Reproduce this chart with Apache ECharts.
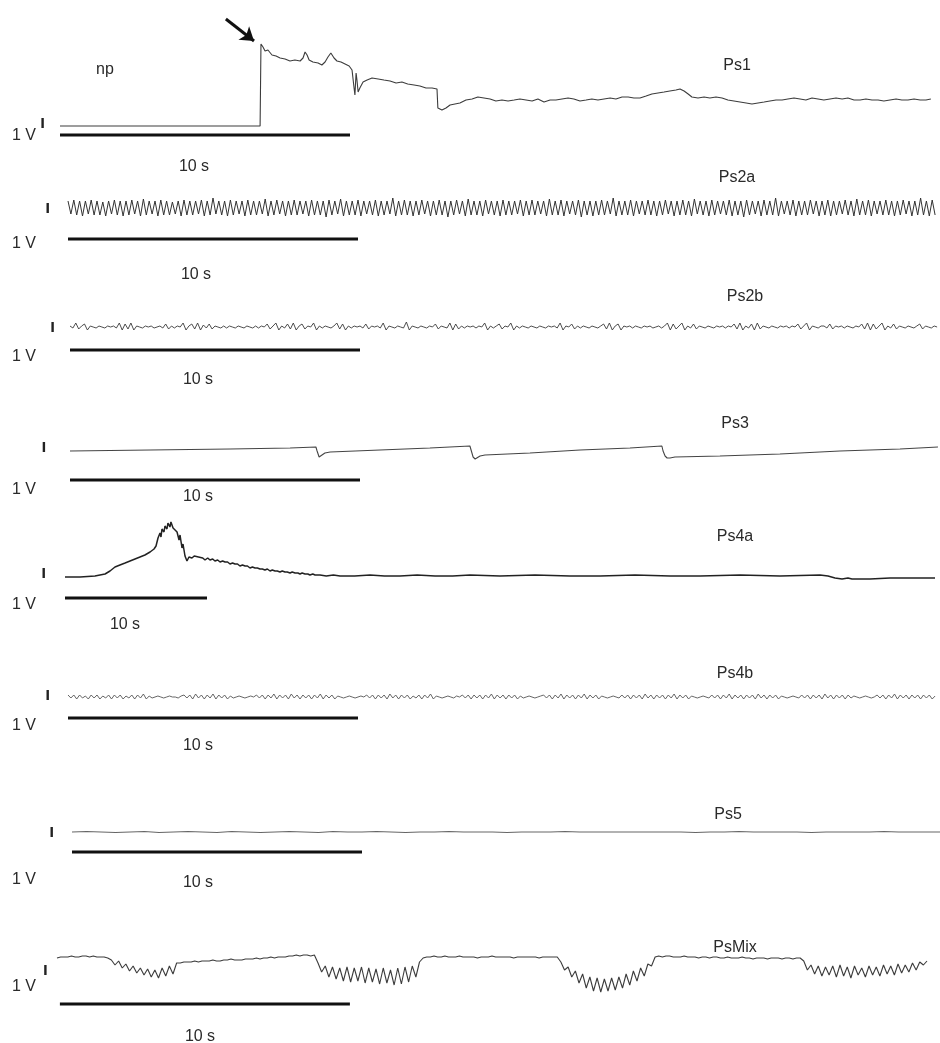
<!DOCTYPE html>
<html>
<head>
<meta charset="utf-8">
<script src="https://cdn.jsdelivr.net/npm/echarts@6/dist/echarts.min.js"></script>
<style>
  html, body { margin: 0; padding: 0; background: #fff; }
  #chart { width: 940px; height: 1043px; }
</style>
</head>
<body>
<div id="chart"></div>
<script>
// ---- Recorded traces: time in s, potential in V (relative to each trace's resting level) ----

const panelNames = ['Ps1', 'Ps2a', 'Ps2b', 'Ps3', 'Ps4a', 'Ps4b', 'Ps5', 'PsMix'];
const voltLabel = '1 V';
const timeLabel = '10 s';
const markerLabel = 'np';
const timeBarSeconds = 10;
const voltBarVolts = 1;

// Ps1: [t, V] pairs
const ps1Trace = [
  [0,0],[6.90,0],[6.93,8.2],[7.00,7.9],[7.07,7.5],[7.17,7.6],[7.31,7.1],[7.45,7.0],[7.59,6.8],[7.76,6.7],
  [7.93,6.5],[8.10,6.6],[8.28,6.5],[8.38,6.8],[8.45,7.4],[8.52,7.1],[8.59,6.6],[8.72,6.4],[8.90,6.3],[9.03,6.1],
  [9.14,6.4],[9.24,6.9],[9.34,7.3],[9.45,6.8],[9.55,6.5],[9.69,6.4],[9.83,6.2],[9.97,6.0],[10.07,5.6],[10.14,3.8],
  [10.17,3.1],[10.21,5.3],[10.24,4.6],[10.28,3.4],[10.34,3.8],[10.45,4.4],[10.59,4.6],[10.76,4.8],[10.97,4.7],[11.17,4.6],
  [11.38,4.5],[11.59,4.3],[11.79,4.4],[11.99,4.2],[12.21,4.1],[12.41,4.0],[12.62,3.8],[12.83,3.8],[13.00,3.7],[13.03,1.8],
  [13.17,1.6],[13.31,1.8],[13.45,2.1],[13.62,2.2],[13.79,2.3],[14.00,2.6],[14.21,2.7],[14.41,2.9],[14.62,2.8],[14.83,2.7],
  [15.03,2.5],[15.24,2.6],[15.45,2.5],[15.66,2.6],[15.86,2.7],[16.07,2.6],[16.28,2.5],[16.48,2.7],[16.69,2.4],[16.90,2.6],
  [17.10,2.6],[17.31,2.7],[17.52,2.8],[17.72,2.7],[17.93,2.5],[18.14,2.6],[18.34,2.7],[18.55,2.6],[18.76,2.7],[18.97,2.8],
  [19.17,2.7],[19.38,2.9],[19.59,2.9],[19.79,2.8],[20.00,2.8],[20.21,3.0],[20.41,3.2],[20.62,3.3],[20.83,3.4],[21.03,3.5],
  [21.24,3.6],[21.38,3.7],[21.52,3.5],[21.66,3.2],[21.79,2.9],[22.00,2.8],[22.21,2.9],[22.41,2.8],[22.62,2.9],[22.83,2.8],
  [23.03,2.6],[23.24,2.5],[23.45,2.4],[23.66,2.3],[23.86,2.2],[24.07,2.3],[24.28,2.4],[24.48,2.5],[24.69,2.6],[24.90,2.6],
  [25.10,2.7],[25.31,2.8],[25.52,2.7],[25.72,2.6],[25.93,2.8],[26.14,2.7],[26.34,2.6],[26.55,2.7],[26.76,2.8],[26.97,2.7],
  [27.17,2.8],[27.38,2.6],[27.59,2.6],[27.79,2.7],[28.00,2.6],[28.21,2.6],[28.41,2.5],[28.62,2.6],[28.83,2.7],[29.03,2.6],
  [29.24,2.6],[29.45,2.7],[29.66,2.6],[29.86,2.6],[30.03,2.7]
];
// arrow pointing at the onset in Ps1 (t, V)
const ps1Arrow = [[5.72, 10.7], [6.69, 8.5]];

// Ps2a: sampled every 0.1 s
const ps2aStep = 0.1;
const ps2aTrace = [
  .6,-.7,.7,-.8,.6,-.9,.6,-.7,.7,-.8,.6,-.8,.5,-.9,.6,-.7,.7,-.8,.6,-.9,
  .6,-.8,.7,-.7,.6,-.9,.8,-.8,.6,-.7,.6,-.9,.7,-.8,.6,-.8,.5,-.7,.6,-.9,
  .7,-.8,.6,-.8,.6,-.7,.7,-.9,.6,-.8,.9,-.7,.6,-.8,.6,-.9,.7,-.8,.6,-.7,
  .6,-.9,.7,-.8,.6,-.8,.6,-.7,.8,-.9,.6,-.8,.7,-.7,.6,-.9,.6,-.8,.7,-.8,
  .6,-.7,.6,-.9,.7,-.8,.6,-.8,.6,-1,.7,-.8,.6,-.7,.8,-.9,.6,-.8,.6,-.8,
  .7,-.9,.6,-.7,.6,-.8,.7,-.9,.6,-.8,.6,-.7,.9,-.9,.6,-.8,.7,-.8,.6,-.9,
  .6,-.8,.7,-.7,.6,-.9,.6,-.8,.7,-.8,.6,-1,.6,-.8,.7,-.7,.6,-.9,.8,-.8,
  .6,-.8,.6,-.9,.7,-.7,.6,-.8,.6,-.9,.7,-.8,.6,-.8,.6,-.7,.7,-.9,.6,-.8,
  .7,-.8,.6,-.7,.6,-.9,.8,-.8,.6,-.8,.7,-.9,.6,-.7,.6,-.8,.7,-1,.6,-.8,
  .6,-.9,.6,-.8,.7,-.8,.6,-.7,.9,-.9,.6,-.8,.6,-.8,.7,-.9,.6,-.7,.6,-.8,
  .7,-.8,.6,-.9,.6,-.8,.7,-.7,.6,-.9,.6,-.8,.7,-.8,.6,-.9,.8,-.7,.6,-.8,
  .6,-.9,.7,-.8,.6,-.7,.6,-.8,.7,-.9,.6,-.8,.6,-1,.7,-.8,.6,-.7,.6,-.9,
  .7,-.8,.6,-.8,.9,-.9,.6,-.7,.6,-.8,.7,-.9,.6,-.8,.6,-.8,.7,-.7,.6,-.9,
  .6,-.8,.7,-.9,.6,-.8,.6,-.7,.7,-.8,.6,-.9,.8,-.8,.6,-.8,.7,-.9,.6,-.7,
  .6,-.8,.7,-.8,.6,-.9,.6,-.8,.7,-.7,.6,-.9,.6,-.8,.9,-.8,.6,-.9,.7,-.8
];

// Ps2b: sampled every 0.1 s
const ps2bStep = 0.1;
const ps2bTrace = [
  .1,-.1,.4,-.2,.1,.3,-.3,.1,0,-.1,.1,0,-.1,.1,0,.1,-.1,.4,-.3,.3,
  -.2,.4,-.3,.1,0,-.1,.1,0,.1,-.1,0,.1,-.1,.3,-.2,.1,-.1,.1,0,.4,
  -.3,.1,.3,-.2,.4,-.3,.2,-.1,.3,-.2,.1,0,-.1,.1,-.1,.1,0,-.1,.1,0,
  -.1,.1,0,-.1,.1,-.1,.1,0,.3,-.2,.1,.4,-.3,.1,-.1,.3,-.2,.4,-.3,.1,
  .3,-.2,.1,0,.4,-.3,.1,-.1,.1,0,-.1,.1,.4,-.2,.3,-.3,.1,-.1,.1,0,
  .1,-.1,.3,-.2,.1,0,.1,-.1,.4,-.3,.1,0,-.1,.1,0,-.1,.5,-.3,.1,0,
  -.1,.1,0,-.1,.1,0,.3,-.2,.1,0,-.1,.4,-.3,.3,-.2,.1,-.1,.1,0,.1,
  -.1,.1,0,.4,-.3,.1,-.1,.1,.3,-.2,.1,0,.4,-.3,.1,-.1,.1,0,-.1,.1,
  0,-.1,.1,0,-.1,.1,0,.1,-.1,.4,-.3,.1,0,.3,-.2,.1,-.1,.1,0,-.1,
  .1,0,-.1,.1,.3,-.2,.4,-.3,.1,.3,-.3,.1,0,.1,-.1,.1,0,-.1,.1,0,
  .1,-.1,0,.1,-.1,.1,.4,-.3,.3,-.2,.1,.4,-.3,.1,-.1,.3,-.2,.1,0,-.1,
  .1,0,-.1,.1,0,.1,-.1,.1,0,.3,-.2,.4,-.3,.1,-.1,.3,-.3,.4,-.2,.1,
  0,-.1,.1,0,-.1,.1,0,.1,-.1,.1,0,.3,-.2,.1,.4,-.3,.1,0,-.1,.1,
  .1,-.1,.3,-.2,.1,0,.1,-.1,.1,0,-.1,.1,0,.3,-.2,.4,-.3,.3,-.2,.1,
  .4,-.3,.1,-.1,.3,-.2,.1,0,-.1,.1,0,-.1,.1,.3,-.2,.1,0,-.1,.1,0
];

// Ps3: [t, V] pairs
const ps3Trace = [
  [0,-0.1],[2.76,0],[5.52,0.1],[7.59,0.2],[8.48,0.3],[8.52,-0.1],[8.59,-0.7],[8.62,-0.8],[8.69,-0.5],[8.79,-0.3],
  [8.97,-0.2],[10.69,0],[12.41,0.2],[13.79,0.4],[13.83,0],[13.90,-0.7],[13.97,-0.9],[14.03,-0.8],[14.14,-0.6],[14.31,-0.5],
  [15.86,-0.3],[17.59,0],[19.31,0.2],[20.41,0.4],[20.45,-0.1],[20.52,-0.6],[20.59,-0.8],[20.69,-0.8],[20.86,-0.7],[22.41,-0.6],
  [24.48,-0.4],[26.55,-0.1],[28.62,0.1],[29.93,0.3]
];

// Ps4a: [t, V] pairs (slower time base)
const ps4aTrace = [
  [0,0],[1.06,0],[2.11,0.1],[2.82,0.3],[3.17,0.6],[3.52,1.0],[3.87,1.2],[4.23,1.4],[4.58,1.6],[4.93,1.8],
  [5.28,2.0],[5.63,2.2],[5.99,2.5],[6.27,2.8],[6.41,3.1],[6.55,3.9],[6.69,4.4],[6.76,4.0],[6.83,4.8],[6.97,4.5],
  [7.04,5.1],[7.18,4.8],[7.25,5.4],[7.39,5.0],[7.46,5.5],[7.61,4.9],[7.75,5.1],[7.89,4.5],[8.03,3.7],[8.10,4.2],
  [8.24,2.9],[8.31,3.3],[8.45,2.1],[8.59,1.6],[8.73,2.0],[8.94,1.9],[9.10,2.1],[9.23,1.9],[9.40,2.0],[9.51,1.8],
  [9.70,1.9],[9.86,1.7],[10.05,1.9],[10.21,1.7],[10.40,1.8],[10.56,1.6],[10.75,1.7],[10.92,1.5],[11.10,1.6],[11.27,1.5],
  [11.45,1.5],[11.62,1.3],[11.80,1.4],[11.97,1.3],[12.15,1.3],[12.32,1.1],[12.50,1.2],[12.68,1.1],[12.85,1.1],[13.03,0.9],
  [13.20,1.0],[13.38,0.9],[13.55,0.9],[13.73,0.8],[13.90,0.8],[14.08,0.7],[14.25,0.8],[14.44,0.6],[14.60,0.7],[14.79,0.6],
  [14.95,0.6],[15.14,0.5],[15.30,0.6],[15.49,0.5],[15.65,0.5],[15.85,0.4],[16.00,0.5],[16.20,0.4],[16.40,0.4],[16.55,0.3],
  [16.70,0.4],[16.90,0.3],[17.10,0.3],[17.25,0.2],[17.45,0.3],[17.61,0.2],[17.96,0.2],[18.40,0.1],[18.90,0.2],[19.37,0.1],
  [20.40,0.1],[21.48,0.2],[22.50,0.1],[23.59,0.1],[24.80,0.2],[26.06,0.1],[27.30,0.1],[28.52,0.2],[30.63,0.1],[33.10,0.2],
  [35.56,0.1],[37.68,0.1],[40.14,0.2],[42.61,0.1],[44.72,0.1],[47.54,0.2],[50.35,0.1],[53.17,0.2],[53.73,0.1],[54.23,-0.1],
  [54.72,-0.2],[55.14,-0.1],[55.42,-0.2],[56.69,-0.2],[58.10,-0.1],[59.51,-0.1],[61.27,-0.1]
];

// Ps4b: sampled every 0.1 s
const ps4bStep = 0.1;
const ps4bTrace = [
  .2,-.1,.2,-.2,.2,-.1,.1,-.2,.2,-.1,.2,-.2,.1,-.1,.2,-.2,.2,-.1,.2,-.2,
  .1,-.1,.2,-.2,.2,-.1,.3,-.2,.1,-.1,0,.1,0,-.1,0,.1,0,0,-.1,.1,
  .2,-.1,.2,-.2,.3,-.1,.2,-.2,.2,-.1,.3,-.2,.2,-.1,.2,-.2,.1,-.1,0,.1,
  0,-.1,0,.1,0,.2,-.1,.2,-.2,.2,-.1,.3,-.2,.2,-.1,.2,-.2,.3,-.1,.2,
  -.2,.2,-.1,.2,-.2,.2,-.1,.3,-.2,.2,-.1,.2,-.2,.1,0,-.1,0,.1,0,-.1,
  0,.1,0,.2,-.1,.2,-.2,.2,-.1,.2,-.2,.3,-.1,.2,-.2,.2,-.1,.2,-.2,.1,
  -.1,.2,-.2,.2,-.1,.3,-.2,.1,0,-.1,0,.1,0,-.1,.1,0,.2,-.1,.2,-.2,
  .2,-.1,.2,-.2,.2,-.1,.3,-.2,.2,-.1,.2,-.2,.2,-.1,.2,-.2,.1,-.1,0,.1,
  0,-.1,0,.1,.2,-.1,.2,-.2,.2,-.1,.3,-.2,.2,-.1,.2,-.2,.2,-.1,.3,-.2,
  .2,-.1,.2,-.2,.1,0,-.1,0,.1,0,-.1,.2,-.1,.2,-.2,.2,-.1,.2,-.2,.3,
  -.1,.2,-.2,.2,-.1,.2,-.2,.2,-.1,.3,-.2,.2,-.1,.2,-.2,.1,0,-.1,0,.1,
  0,-.1,.2,-.1,.2,-.2,.2,-.1,.3,-.2,.2,-.1,.2,-.2,.2,-.1,.2,-.2,.3,-.1,
  .2,-.2,.2,-.1,.2,-.2,.1,0,-.1,0,.1,0,-.1,.2,-.1,.2,-.2,.2,-.1,.2,
  -.2,.3,-.1,.2,-.2,.2,-.1,.2,-.2,.2,-.1,.1,0,-.1,0,.1,0,-.1,0,.2,
  -.1,.2,-.2,.2,-.1,.3,-.2,.2,-.1,.2,-.2,.2,-.1,.2,-.2,.2,-.1,.2,-.2,.1
];

// Ps5: sampled every 0.5 s
const ps5Step = 0.5;
const ps5Trace = [
  0,.05,0,-.05,0,.05,-.05,0,.05,0,-.05,.05,0,-.05,0,.05,0,-.05,.05,0,
  0,.05,0,-.05,0,0,.05,0,0,0,-.05,0,0,0,.05,0,0,0,0,0,
  0,0,0,-.05,0,0,.05,0,0,0,0,-.05,0,0,0,0,.05,0,0,0,0
];

// PsMix: sampled every 0.125 s
const psMixStep = 0.125;
const psMixTrace = [
  0,.1,.1,.1,.2,.1,.1,.2,.2,.1,.2,.1,.1,.1,0,
  -.2,-.7,-.3,-1.0,-.6,-1.3,-.8,-1.5,-1.0,-1.7,-1.1,-1.9,-1.2,-2.0,-1.0,-1.8,-.8,-1.6,-.5,
  -.5,-.4,-.4,-.4,-.3,-.4,-.3,-.3,-.3,-.2,-.3,-.3,-.2,-.2,-.1,-.2,-.2,-.2,-.1,-.1,
  -.1,0,-.1,0,0,.1,0,.1,.1,.1,.2,.2,.3,.2,.3,.3,.2,.3,
  -.5,-1.4,-.8,-1.9,-.9,-2.1,-1.0,-2.3,-.9,-2.4,-1.0,-2.3,-.9,-2.5,-1.0,-2.4,-1.1,-2.6,-1.0,-2.5,
  -1.2,-2.7,-1.0,-2.6,-.9,-2.4,-.8,-1.9,-.4,
  0,.1,.1,.2,.1,.1,.2,.1,.1,.1,.2,.1,.1,.1,.1,0,.1,.1,.1,.2,
  .1,.1,.1,.1,.1,0,.1,.1,.1,.1,.1,.1,0,.1,.1,.1,.1,.1,
  -.4,-1.2,-.9,-1.9,-1.3,-2.5,-1.6,-3.0,-1.9,-3.3,-2.0,-3.4,-2.1,-3.3,-2.0,-3.2,-1.9,-3.0,-1.6,-2.7,
  -1.3,-2.3,-1.0,-1.8,-.6,-.8,
  .1,.2,.1,.2,.2,.1,.1,.1,.2,.1,.1,.1,0,.1,.1,0,.1,.1,0,0,
  .1,0,0,0,.1,0,0,-.1,0,0,0,-.1,0,0,0,-.1,0,0,-.1,0,0,
  -.3,-1.2,-.7,-1.6,-.8,-1.8,-.9,-1.7,-.8,-1.9,-.7,-1.8,-.9,-2.0,-.8,-1.7,-1.0,-1.9,-.8,-1.7,
  -.9,-1.8,-.7,-1.6,-.8,-1.7,-.6,-1.5,-.7,-1.4,-.5,-1.2,-.4,-.7,-.3
];

// ---- Layout: where each trace sits on the page and how its axes are scaled ----
const PAGE_W = 940, PAGE_H = 1043;
const PX_PER_VOLT = 10;
const FONT = '"Liberation Sans", Arial, Helvetica, sans-serif';
const FONT_SIZE = 16;

function sampled(values, step) {
  return values.map((v, i) => [+(i * step).toFixed(4), v]);
}

const panels = [
  { data: ps1Trace, x0: 60, pxPerSec: 29, y0: 126, barV: -0.9, barT0: 0, vbarT: -0.6, vbarV0: -0.2,
    nameAt: [737, 66], voltAt: [24, 136], timeAt: [194, 167], color: '#3c3c3c', width: 1.1 },
  { data: sampled(ps2aTrace, ps2aStep), x0: 68, pxPerSec: 29, y0: 207, barV: -3.2, barT0: 0, vbarT: -0.7, vbarV0: -0.6,
    nameAt: [737, 178], voltAt: [24, 244], timeAt: [196, 275], color: '#333', width: 1 },
  { data: sampled(ps2bTrace, ps2bStep), x0: 70, pxPerSec: 29, y0: 327, barV: -2.3, barT0: 0, vbarT: -0.6, vbarV0: -0.5,
    nameAt: [745, 297], voltAt: [24, 357], timeAt: [198, 380], color: '#3a3a3a', width: 0.9 },
  { data: ps3Trace, x0: 70, pxPerSec: 29, y0: 450, barV: -3.0, barT0: 0, vbarT: -0.9, vbarV0: -0.2,
    nameAt: [735, 424], voltAt: [24, 490], timeAt: [198, 497], color: '#444', width: 1.1 },
  { data: ps4aTrace, x0: 65, pxPerSec: 14.2, y0: 577, barV: -2.1, barT0: 0, vbarT: -1.5, vbarV0: -0.1,
    nameAt: [735, 537], voltAt: [24, 605], timeAt: [125, 625], color: '#222', width: 1.5 },
  { data: sampled(ps4bTrace, ps4bStep), x0: 68, pxPerSec: 29, y0: 697, barV: -2.1, barT0: 0, vbarT: -0.7, vbarV0: -0.3,
    nameAt: [735, 674], voltAt: [24, 726], timeAt: [198, 746], color: '#555', width: 0.9 },
  { data: sampled(ps5Trace, ps5Step), x0: 72, pxPerSec: 29, y0: 832, barV: -2.0, barT0: 0, vbarT: -0.7, vbarV0: -0.5,
    nameAt: [728, 815], voltAt: [24, 880], timeAt: [198, 883], color: '#666', width: 1.1 },
  { data: sampled(psMixTrace, psMixStep), x0: 57, pxPerSec: 29, y0: 958, barV: -4.6, barT0: 0.1, vbarT: -0.4, vbarV0: -1.7,
    nameAt: [735, 948], voltAt: [24, 987], timeAt: [200, 1037], color: '#3c3c3c', width: 1.1 }
];

const grids = [], xAxes = [], yAxes = [], series = [], graphics = [];

panels.forEach((p, k) => {
  grids.push({ left: 0, right: 0, top: 0, bottom: 0, containLabel: false });
  xAxes.push({ type: 'value', gridIndex: k, show: false,
    min: -p.x0 / p.pxPerSec, max: (PAGE_W - p.x0) / p.pxPerSec });
  yAxes.push({ type: 'value', gridIndex: k, show: false,
    min: -(PAGE_H - p.y0) / PX_PER_VOLT, max: p.y0 / PX_PER_VOLT });

  const trace = {
    type: 'line', name: panelNames[k], xAxisIndex: k, yAxisIndex: k,
    data: p.data, showSymbol: false, symbol: 'none', sampling: false,
    lineStyle: { color: p.color, width: p.width }, silent: true, z: 3
  };
  if (k === 0) {
    trace.markLine = {
      silent: true, symbol: ['none', 'arrow'], symbolSize: 13,
      label: { show: false },
      emphasis: { disabled: true },
      lineStyle: { color: '#111', width: 3, type: 'solid' },
      itemStyle: { color: '#111' },
      data: [[{ coord: ps1Arrow[0] }, { coord: ps1Arrow[1] }]]
    };
  }
  series.push(trace);

  // time scale bar
  series.push({
    type: 'line', xAxisIndex: k, yAxisIndex: k, symbol: 'none', silent: true,
    data: [[p.barT0, p.barV], [p.barT0 + timeBarSeconds, p.barV]],
    lineStyle: { color: '#111', width: 3 }
  });
  // voltage scale bar
  series.push({
    type: 'line', xAxisIndex: k, yAxisIndex: k, symbol: 'none', silent: true,
    data: [[p.vbarT, p.vbarV0], [p.vbarT, p.vbarV0 + voltBarVolts]],
    lineStyle: { color: '#222', width: 2.4 }
  });

  const txt = (s, at) => ({
    type: 'text', x: at[0], y: at[1],
    style: { text: s, font: `${FONT_SIZE}px ${FONT}`, fill: '#2a2a2a', textAlign: 'center', textVerticalAlign: 'middle' }
  });
  graphics.push(txt(panelNames[k], p.nameAt));
  graphics.push(txt(voltLabel, p.voltAt));
  graphics.push(txt(timeLabel, p.timeAt));
});

graphics.push({
  type: 'text', x: 105, y: 70,
  style: { text: markerLabel, font: `${FONT_SIZE}px ${FONT}`, fill: '#2a2a2a', textAlign: 'center', textVerticalAlign: 'middle' }
});

const chart = echarts.init(document.getElementById('chart'), null, { renderer: 'canvas' });
chart.setOption({
  animation: false,
  backgroundColor: '#fff',
  grid: grids,
  xAxis: xAxes,
  yAxis: yAxes,
  series: series,
  graphic: graphics
});
</script>
</body>
</html>
